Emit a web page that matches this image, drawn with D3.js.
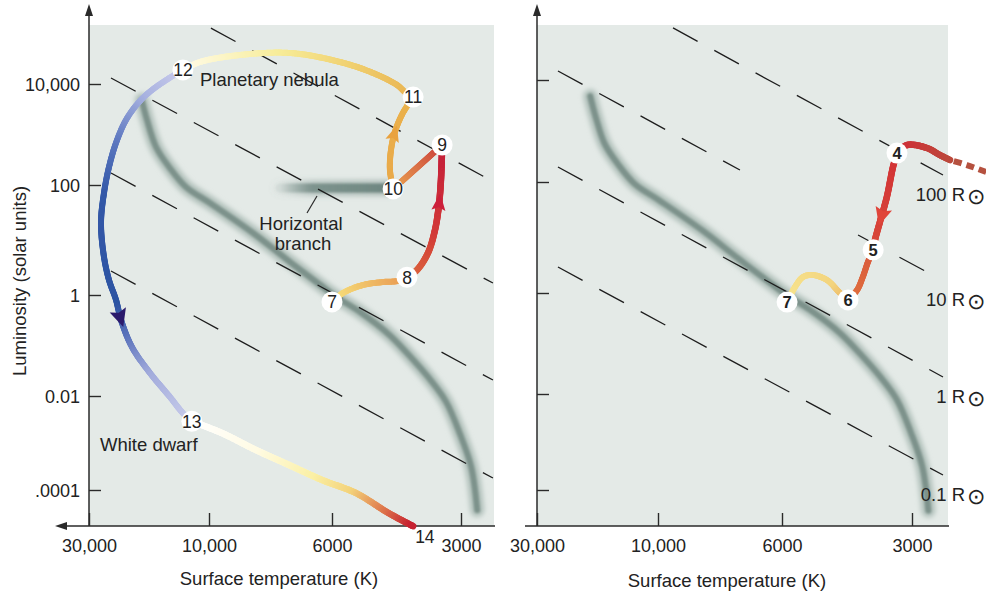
<!DOCTYPE html>
<html>
<head>
<meta charset="utf-8">
<script src="https://cdn.jsdelivr.net/npm/d3@7"></script>
<style>
  body { margin: 0; background: #fff; }
  svg { display: block; }
  text { font-family: "Liberation Sans", Arial, Helvetica, sans-serif; fill: #222; }
</style>
</head>
<body>
<svg id="chart" width="986" height="597"></svg>
<script>
// ---------- data ----------
const tempTicks = [30000, 10000, 6000, 3000];
const tempTickLabels = ["30,000", "10,000", "6000", "3000"];
const lumTicks = [1e4, 1e2, 1, 1e-2, 1e-4];
const lumTickLabels = ["10,000", "100", "1", "0.01", ".0001"];

// main sequence band: [temperature K, luminosity L_sun]
const mainSequence = [
  [18500, 4800], [17640, 1940], [16240, 566], [14420, 228], [12350, 92], [9960, 47],
  [8330, 13.4], [7140, 3.98], [6300, 1.52], [5900, 0.95], [5160, 0.46], [4400, 0.16],
  [3880, 0.052], [3540, 0.021], [3250, 0.0075], [3020, 0.0016], [2840, 0.00031], [2750, 0.0000375]
];
// horizontal branch
const horizontalBranch = [[7450, 88], [6300, 88], [5200, 88], [4450, 88]];

// lines of constant radius: [T start, L start, T end, L end]
const leftRadiusLines = [
  [9920, 1.28e5, 2540, 120],
  [24530, 13150, 2527, 1.65],
  [24530, 173, 2527, 0.0207],
  [24530, 2.73, 2527, 1.8e-4]
];
const rightRadiusLines = [
  [9400, 1.05e5, 2543, 137],
  [24800, 15000, 7135, 172],
  [4000, 11.1, 2770, 2.39],
  [24800, 197, 2543, 0.0217],
  [24800, 2.94, 2543, 2.05e-4]
];
const radiusLabels = ["100 R", "10 R", "1 R", "0.1 R"];
const radiusLabelT = [2543, 2770, 2543, 2543];
const radiusLabelL = [137, 2.39, 0.0217, 2.05e-4];

// left panel: stages 7-13 of a solar-mass star after the main sequence
const leftStageLabels = ["7", "8", "9", "10", "11", "12", "13"];
const leftStageT = [6000, 4010, 3320, 4320, 3880, 12700, 11700];
const leftStageL = [0.73, 2.1, 620, 85, 5500, 19000, 0.0029];
const stage14 = [3880, 1.7e-5];

const path7to8 = [[5655, 1.09], [5080, 1.52], [4560, 1.72], [4210, 1.80]];
const path8to9 = [[3800, 2.85], [3583, 5.8], [3450, 15.2], [3378, 43], [3341, 126]];
const path9to10 = [[3740, 249]];
const path10to11 = [[4395, 198], [4370, 493], [4280, 1120], [4100, 2670]];
const path11to12 = [[4055, 6950], [4230, 9550], [4810, 16500], [5750, 27300], [7140, 41100], [8800, 37500], [10860, 27300]];
const path12to13 = [[14160, 13770], [16850, 7610], [18980, 4400], [21380, 1940], [23430, 680], [24980, 227],
  [26150, 72], [26880, 20.4], [26150, 4.9], [24980, 1.87], [23430, 0.8], [22380, 0.32], [20240, 0.093],
  [17170, 0.0286], [14290, 0.0095], [12690, 0.0043]];
const path13to14 = [[9480, 0.00163], [8230, 7.1e-4], [7170, 3.4e-4], [6250, 1.63e-4], [5275, 8.6e-5], [4420, 3.2e-5]];

// right panel: stages 4-7 of a more massive star
const rightStageLabels = ["4", "5", "6", "7"];
const rightStageT = [3250, 3690, 4220, 5840];
const rightStageL = [370, 6.0, 0.73, 0.66];
const pathInto4Dashed = [[2020, 157], [2240, 215], [2450, 270]];
const pathInto4 = [[2450, 270], [2585, 338], [2770, 464], [3080, 531]];
const path4to5 = [[3320, 197], [3430, 54], [3560, 19], [3655, 9]];
const path5to6 = [[3795, 3.6], [3900, 1.94], [4020, 1.13]];
const path6to7 = [[4405, 1.0], [4720, 1.71], [5090, 2.11], [5365, 1.94], [5600, 1.28]];

// ---------- layout ----------
const W = 986, H = 597;
const svg = d3.select("#chart");
const defs = svg.append("defs");
function blurFilter(id, sd) {
  defs.append("filter").attr("id", id)
    .attr("filterUnits", "userSpaceOnUse").attr("x", 0).attr("y", 0).attr("width", W).attr("height", H)
    .append("feGaussianBlur").attr("stdDeviation", sd);
}
blurFilter("blurWide", 2.6);
blurFilter("blurCore", 1.3);
blurFilter("blurSoft", 0.5);

const panels = [
  {
    x: d3.scaleLog().domain(tempTicks).range([89, 209, 332, 461]),
    y: d3.scaleLog().domain(lumTicks).range([84, 185, 295, 396, 490]),
    x0: 89, right: 494, top: 25, base: 526, axisStart: 55, leftArrow: true,
    yLabels: true, title: [279, 585]
  },
  {
    x: d3.scaleLog().domain(tempTicks).range([537, 658, 782, 912]),
    y: d3.scaleLog().domain(lumTicks).range([80, 182, 293, 394, 490]),
    x0: 537, right: 948, top: 25, base: 526, axisStart: 525, leftArrow: false,
    yLabels: false, title: [727, 587]
  }
];

const ink = "#2a2a2a";

function trackLine(p, curve) {
  return d3.line().x(d => p.x(d[0])).y(d => p.y(d[1])).curve(curve || d3.curveCatmullRom.alpha(0.5));
}

// draw a curve whose colour changes smoothly along its length
function colourTrack(g, p, pts, stops, width) {
  const guide = g.append("path").attr("d", trackLine(p)(pts)).attr("fill", "none").attr("stroke", "none");
  const node = guide.node(), len = node.getTotalLength();
  const col = d3.scaleLinear().domain(stops.map(s => s[0])).range(stops.map(s => s[1]))
    .interpolate(d3.interpolateRgb).clamp(true);
  const n = Math.max(2, Math.ceil(len / 1.5));
  const seg = g.append("g").attr("filter", "url(#blurSoft)");
  let prev = node.getPointAtLength(0);
  for (let i = 1; i <= n; i++) {
    const q = node.getPointAtLength(Math.min(len, (i * len) / n));
    seg.append("line").attr("x1", prev.x).attr("y1", prev.y).attr("x2", q.x).attr("y2", q.y)
      .attr("stroke", col((i - 0.5) / n)).attr("stroke-width", width).attr("stroke-linecap", "round");
    prev = q;
  }
  return { node, len };
}

function arrowHead(g, guide, t, len, wid, colour) {
  const a = guide.node.getPointAtLength(t * guide.len);
  const b = guide.node.getPointAtLength(Math.min(guide.len, t * guide.len + 2));
  const ang = Math.atan2(b.y - a.y, b.x - a.x) * 180 / Math.PI;
  g.append("path")
    .attr("d", `M${len / 2},0L${-len / 2},${-wid / 2}L${-len / 2 + 3},0L${-len / 2},${wid / 2}Z`)
    .attr("transform", `translate(${a.x},${a.y}) rotate(${ang})`)
    .attr("fill", colour);
}

function stageMarkers(g, p, labels, ts, ls, bold) {
  const m = g.selectAll("g.stage").data(labels).join("g").attr("class", "stage")
    .attr("transform", (d, i) => `translate(${p.x(ts[i])},${p.y(ls[i])})`);
  m.append("circle").attr("r", 10.5).attr("fill", "#fff");
  m.append("text").attr("text-anchor", "middle").attr("dy", "0.36em")
    .attr("font-size", bold ? 16.5 : 17.5).attr("font-weight", bold ? "bold" : "normal")
    .text(d => d);
}

function radiusLine(g, p, r) {
  g.append("line")
    .attr("x1", p.x(r[0])).attr("y1", p.y(r[1])).attr("x2", p.x(r[2])).attr("y2", p.y(r[3]))
    .attr("stroke", "#1d1d1d").attr("stroke-width", 1.3).attr("stroke-dasharray", "28 19");
}

function mainSequenceBand(g, p) {
  const d = trackLine(p)(mainSequence);
  g.append("path").attr("d", d).attr("fill", "none").attr("stroke", "#b0c0ba")
    .attr("stroke-width", 14).attr("stroke-linecap", "round").attr("filter", "url(#blurWide)");
  g.append("path").attr("d", d).attr("fill", "none").attr("stroke", "#7d928b")
    .attr("stroke-width", 6).attr("stroke-linecap", "round").attr("filter", "url(#blurCore)");
}

panels.forEach((p, pi) => {
  const g = svg.append("g");

  // plot background
  g.append("rect").attr("x", p.x0).attr("y", p.top).attr("width", p.right - p.x0).attr("height", p.base - p.top)
    .attr("fill", "#e4eae7");

  mainSequenceBand(g, p);

  if (pi === 0) {
    const hbGrad = defs.append("linearGradient").attr("id", "hbGrad").attr("gradientUnits", "userSpaceOnUse")
      .attr("x1", p.x(horizontalBranch[0][0])).attr("x2", p.x(horizontalBranch[3][0])).attr("y1", 0).attr("y2", 0);
    hbGrad.append("stop").attr("offset", 0).attr("stop-color", "#6f8781").attr("stop-opacity", 0.1);
    hbGrad.append("stop").attr("offset", 0.3).attr("stop-color", "#6f8781").attr("stop-opacity", 0.8);
    hbGrad.append("stop").attr("offset", 1).attr("stop-color", "#6f8781").attr("stop-opacity", 1);
    const hb = trackLine(p)(horizontalBranch);
    g.append("path").attr("d", hb).attr("fill", "none")
      .attr("stroke", "url(#hbGrad)").attr("stroke-opacity", 0.45).attr("stroke-width", 16).attr("stroke-linecap", "round")
      .attr("filter", "url(#blurWide)");
    g.append("path").attr("d", hb).attr("fill", "none")
      .attr("stroke", "url(#hbGrad)").attr("stroke-width", 9).attr("stroke-linecap", "round")
      .attr("filter", "url(#blurCore)");
  }

  // constant-radius lines
  (pi === 0 ? leftRadiusLines : rightRadiusLines).forEach(r => radiusLine(g, p, r));

  // axes
  g.append("line").attr("x1", p.x0).attr("x2", p.x0).attr("y1", p.base).attr("y2", 12)
    .attr("stroke", ink).attr("stroke-width", 1.5);
  g.append("path").attr("d", `M${p.x0},4L${p.x0 - 4},16L${p.x0 + 4},16Z`).attr("fill", ink);
  g.append("line").attr("x1", p.leftArrow ? p.axisStart + 8 : p.axisStart).attr("x2", p.right + 1)
    .attr("y1", p.base).attr("y2", p.base).attr("stroke", ink).attr("stroke-width", 1.5);
  if (p.leftArrow) {
    g.append("path").attr("d", `M${p.axisStart},${p.base}L${p.axisStart + 12},${p.base - 4}L${p.axisStart + 12},${p.base + 4}Z`)
      .attr("fill", ink);
  }

  const xAxis = g.append("g").attr("transform", `translate(0,${p.base})`)
    .call(d3.axisBottom(p.x).tickValues(tempTicks).tickFormat((d, i) => tempTickLabels[i])
      .tickSizeInner(-13).tickSizeOuter(0));
  xAxis.select(".domain").remove();
  xAxis.attr("font-size", 18).attr("font-family", null).style("color", ink);
  xAxis.selectAll("line").attr("stroke-width", 1.4);
  xAxis.selectAll("text").attr("y", 26).attr("dy", null).style("fill", "#222");

  const yAxis = g.append("g").attr("transform", `translate(${p.x0},0)`)
    .call(d3.axisLeft(p.y).tickValues(lumTicks).tickFormat((d, i) => p.yLabels ? lumTickLabels[i] : "")
      .tickSizeInner(-12).tickSizeOuter(0).tickPadding(9));
  yAxis.select(".domain").remove();
  yAxis.attr("font-size", 18).attr("font-family", null).style("color", ink);
  yAxis.selectAll("line").attr("stroke-width", 1.4);
  yAxis.selectAll("text").attr("dy", "0.34em").style("fill", "#222");

  g.append("text").attr("x", p.title[0]).attr("y", p.title[1]).attr("text-anchor", "middle")
    .attr("font-size", 18.5).text("Surface temperature (K)");
});

// ---------- left panel tracks ----------
{
  const p = panels[0];
  const g = svg.append("g");
  const st = leftStageLabels.map((d, i) => [leftStageT[i], leftStageL[i]]);
  colourTrack(g, p, [st[0], ...path7to8, st[1]], [[0, "#f7e57e"], [1, "#e99a52"]], 6);
  const red = colourTrack(g, p, [st[1], ...path8to9, st[2]], [[0, "#dc6a3e"], [0.4, "#d23a38"], [1, "#c41e3a"]], 6.5);
  colourTrack(g, p, [st[2], ...path9to10, st[3]], [[0, "#c93a3a"], [1, "#e9a050"]], 6);
  const orange = colourTrack(g, p, [st[3], ...path10to11, st[4]], [[0, "#e9a84a"], [1, "#eab24c"]], 6);
  colourTrack(g, p, [st[4], ...path11to12, st[5]],
    [[0, "#e8b250"], [0.3, "#f0d070"], [0.6, "#f7ec98"], [1, "#fffbe6"]], 6);
  const blue = colourTrack(g, p, [st[5], ...path12to13, st[6]],
    [[0, "#cbcdec"], [0.12, "#a8b2e0"], [0.25, "#5d78c0"], [0.38, "#3459a8"], [0.66, "#2d54a3"],
     [0.74, "#5a72bb"], [0.85, "#a3acdc"], [1, "#c7cbea"]], 6);
  colourTrack(g, p, [st[6], ...path13to14, stage14],
    [[0, "#ffffff"], [0.3, "#fffbe4"], [0.55, "#fbf0a6"], [0.72, "#f3d27a"], [0.86, "#e07e50"], [1, "#c51f2f"]], 6.5);

  arrowHead(g, red, 0.6, 17, 14, "#cc1f3a");
  arrowHead(g, orange, 0.58, 16, 14, "#e9a23e");
  arrowHead(g, blue, 0.69, 18, 17, "#2b1a6c");

  stageMarkers(g, p, leftStageLabels, leftStageT, leftStageL, false);
  g.append("text").attr("x", p.x(stage14[0]) + 2).attr("y", p.y(stage14[1]) + 17).attr("font-size", 17.5).text("14");

  // annotations
  g.append("text").attr("x", 200).attr("y", 86).attr("font-size", 18.5).text("Planetary nebula");
  g.append("text").attr("x", 100).attr("y", 451).attr("font-size", 18.5).text("White dwarf");
  g.append("line").attr("x1", 317).attr("y1", 196).attr("x2", 307).attr("y2", 213)
    .attr("stroke", ink).attr("stroke-width", 1.2);
  g.append("text").attr("x", 301).attr("y", 230).attr("text-anchor", "middle").attr("font-size", 18.5).text("Horizontal");
  g.append("text").attr("x", 303).attr("y", 250).attr("text-anchor", "middle").attr("font-size", 18.5).text("branch");

  g.append("text").attr("transform", "translate(26,281) rotate(-90)").attr("text-anchor", "middle")
    .attr("font-size", 18.5).text("Luminosity (solar units)");
}

// ---------- right panel tracks ----------
{
  const p = panels[1];
  const g = svg.append("g");
  const st = rightStageLabels.map((d, i) => [rightStageT[i], rightStageL[i]]);
  g.append("path").attr("d", trackLine(p)(pathInto4Dashed)).attr("fill", "none")
    .attr("stroke", "#b5513f").attr("stroke-width", 6).attr("stroke-dasharray", "8 5");
  colourTrack(g, p, [...pathInto4, st[0]], [[0, "#bb4a3c"], [1, "#d02f37"]], 6.5);
  const down = colourTrack(g, p, [st[0], ...path4to5, st[1]], [[0, "#d23236"], [1, "#d8483a"]], 6.5);
  colourTrack(g, p, [st[1], ...path5to6, st[2]], [[0, "#d8583c"], [1, "#e0703e"]], 6);
  colourTrack(g, p, [st[2], ...path6to7, st[3]], [[0, "#eab060"], [0.3, "#f3d47e"], [1, "#f7e48e"]], 6);
  arrowHead(g, down, 0.66, 18, 17, "#e0453a");

  stageMarkers(g, p, rightStageLabels, rightStageT, rightStageL, true);

  // radius labels at the ends of the constant-radius lines
  radiusLabels.forEach((lab, i) => {
    const ye = p.y(radiusLabelL[i]);
    const ty = ye + (i === 1 ? 34 : 26);
    g.append("text").attr("x", 965).attr("y", ty).attr("text-anchor", "end").attr("font-size", 18.5).text(lab);
    g.append("text").attr("x", 976).attr("y", ty + 3).attr("text-anchor", "middle").attr("font-size", 22).text("\u2299");
  });
}
</script>
</body>
</html>
